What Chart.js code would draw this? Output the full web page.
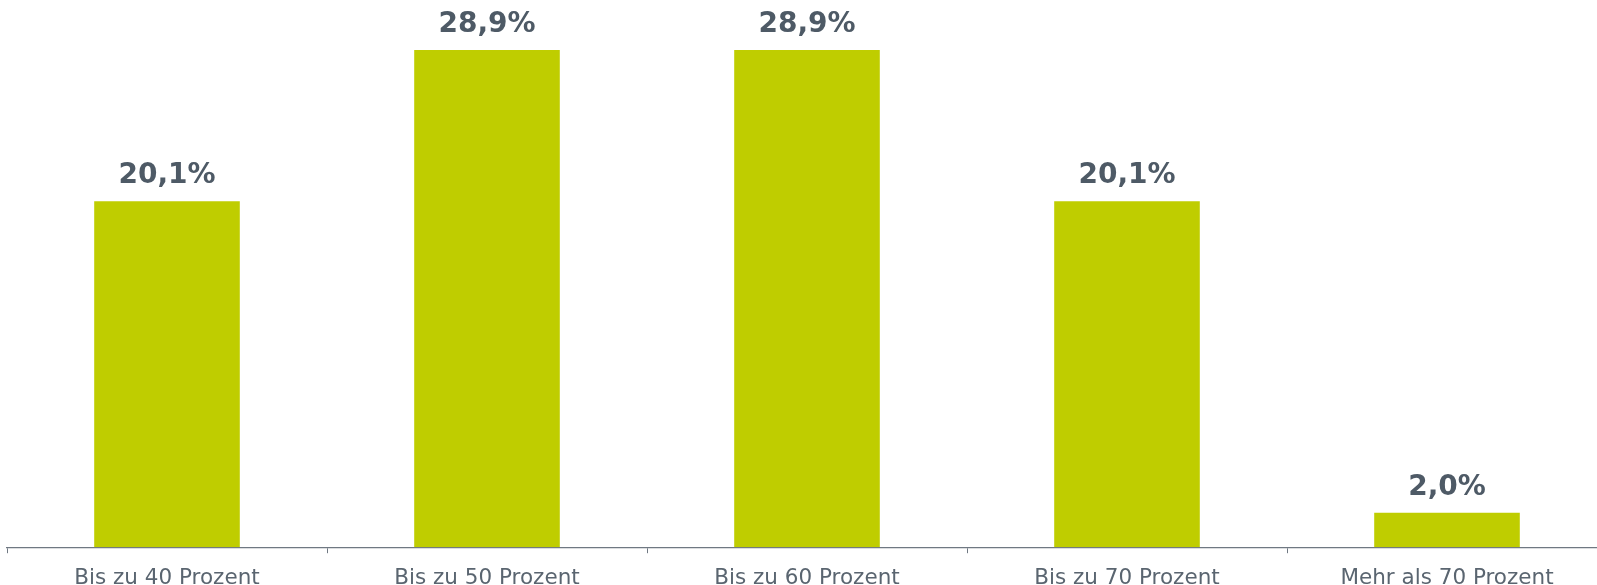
<!DOCTYPE html>
<html>
<head>
<meta charset="utf-8">
<script src="https://cdn.jsdelivr.net/npm/chart.js@4"></script>
<style>
  html, body { margin: 0; padding: 0; background: #fff; overflow: hidden; }
  #wrap { width: 1608px; height: 605px; position: relative; }
</style>
</head>
<body>
<div id="wrap"><canvas id="shareChart"></canvas></div>
<script>
const categories = ["Bis zu 40 Prozent", "Bis zu 50 Prozent", "Bis zu 60 Prozent", "Bis zu 70 Prozent", "Mehr als 70 Prozent"];
const shares = [20.1, 28.9, 28.9, 20.1, 2.0];

const barColor = "#bfcd00";
const valueColor = "#4e5a66";
const axisColor = "#6f7882";

// writes the value above each bar, German decimal comma
const valueLabels = {
  id: "valueLabels",
  afterDatasetsDraw(chart) {
    const { ctx } = chart;
    const meta = chart.getDatasetMeta(0);
    ctx.save();
    ctx.font = "bold 28px 'DejaVu Sans', Verdana, sans-serif";
    ctx.fillStyle = valueColor;
    ctx.textAlign = "center";
    ctx.textBaseline = "alphabetic";
    meta.data.forEach((bar, i) => {
      const txt = shares[i].toFixed(1).replace(".", ",") + "%";
      ctx.fillText(txt, bar.x, bar.y - 18);
    });
    ctx.restore();
  },
};

new Chart(document.getElementById("shareChart"), {
  type: "bar",
  data: {
    labels: categories,
    datasets: [
      {
        data: shares,
        backgroundColor: barColor,
        borderWidth: 0,
        barPercentage: 0.455,
        categoryPercentage: 1,
      },
    ],
  },
  options: {
    responsive: true,
    maintainAspectRatio: false,
    animation: false,
    layout: { padding: { left: 7, right: 1, top: 0, bottom: 2 } },
    plugins: {
      legend: { display: false },
      tooltip: { enabled: false },
    },
    scales: {
      x: {
        grid: {
          offset: true,
          drawOnChartArea: false,
          drawTicks: true,
          tickLength: 6,
          color: axisColor,
        },
        border: { display: true, color: axisColor, width: 1.3 },
        ticks: {
          color: "#5a6570",
          font: { family: "'DejaVu Sans', Verdana, sans-serif", size: 21.5 },
          padding: 12,
          maxRotation: 0,
        },
      },
      y: {
        display: false,
        min: 0,
        max: 31.8,
      },
    },
  },
  plugins: [valueLabels],
});
</script>
</body>
</html>
